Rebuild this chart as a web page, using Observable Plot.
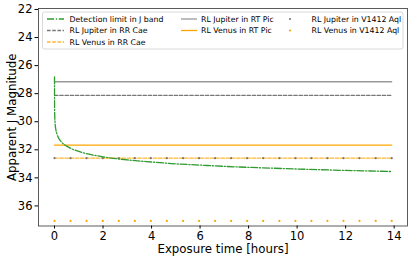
<!DOCTYPE html>
<html>
<head>
<meta charset="utf-8">
<script src="https://cdn.jsdelivr.net/npm/d3@7"></script>
<script src="https://cdn.jsdelivr.net/npm/@observablehq/plot@0.6"></script>
<style>
  html, body { margin: 0; padding: 0; background: #fff; }
  #chart { width: 415px; height: 260px; }
</style>
</head>
<body>
<div id="chart"></div>
<script>
// Detection limit curve
const detTime = [0, 0.003, 0.01, 0.02, 0.05, 0.1, 0.2, 0.3, 0.5, 0.75, 1, 1.5, 2, 3, 4, 5, 6, 7, 8, 9, 10, 11, 12, 13, 13.9];
const detMag  = [26.8, 28.9, 29.62, 30.0, 30.5, 30.87, 31.25, 31.47, 31.74, 31.96, 32.12, 32.34, 32.5, 32.72, 32.87, 33.0, 33.09, 33.18, 33.25, 33.31, 33.37, 33.42, 33.47, 33.51, 33.55];

// Horizontal reference levels
const lineStart = 0;
const lineEnd = 13.9;
const jupiterRTPic = 27.15;
const jupiterRRCae = 28.12;
const venusRTPic = 31.67;
const venusRRCae = 32.6;
const jupiterV1412 = 32.6;
const venusV1412 = 37.07;

// Marker times for dotted series
const markerTimes = [0, 0.66, 1.32, 1.99, 2.65, 3.31, 3.97, 4.63, 5.30, 5.96, 6.62, 7.28, 7.94, 8.60, 9.27, 9.93, 10.59, 11.25, 11.91, 12.57, 13.24, 13.90];

const xTicks = [0, 2, 4, 6, 8, 10, 12, 14];
const yTicks = [22, 24, 26, 28, 30, 32, 34, 36];

const labels = {
  det: "Detection limit in J band",
  jRR: "RL Jupiter in RR Cae",
  vRR: "RL Venus in RR Cae",
  jRT: "RL Jupiter in RT Pic",
  vRT: "RL Venus in RT Pic",
  jV: "RL Jupiter in V1412 Aql",
  vV: "RL Venus in V1412 Aql"
};

const colors = {
  green: "#2f9a2f",
  greySolid: "#999999",
  greyDash: "#777777",
  orange: "#ffa500",
  orangeDash: "#ffb733"
};

const det = detTime.map((t, i) => ({t, m: detMag[i]}));
const hline = (m) => [{t: lineStart, m}, {t: lineEnd, m}];
const dots = (m) => markerTimes.map(t => ({t, m}));

const font = "DejaVu Sans";

const plot = Plot.plot({
  width: 415,
  height: 260,
  marginLeft: 38,
  marginRight: 8,
  marginTop: 8,
  marginBottom: 34.5,
  style: {fontFamily: font, fontSize: "11.5px", color: "#000", background: "#fff"},
  x: {domain: [-0.66, 14.55]},
  y: {domain: [21.93, 37.43], reverse: true},
  marks: [
    Plot.line(hline(jupiterRTPic), {x: "t", y: "m", stroke: colors.greySolid, strokeWidth: 1.3}),
    Plot.line(hline(jupiterRRCae), {x: "t", y: "m", stroke: colors.greyDash, strokeWidth: 1.1, strokeDasharray: "3.6,1.6"}),
    Plot.line(hline(venusRTPic), {x: "t", y: "m", stroke: colors.orange, strokeWidth: 1.3}),
    Plot.line(hline(venusRRCae), {x: "t", y: "m", stroke: colors.orangeDash, strokeWidth: 1.2, strokeDasharray: "3.6,1.6"}),
    Plot.dot(dots(jupiterV1412), {x: "t", y: "m", r: 1.1, fill: colors.greyDash, stroke: "none"}),
    Plot.dot(dots(venusV1412), {x: "t", y: "m", r: 1.1, fill: colors.orange, stroke: "none"}),
    Plot.line(det, {x: "t", y: "m", stroke: colors.green, strokeWidth: 1.3, strokeDasharray: "7,1.8,1.2,1.8", curve: "monotone-x"}),
    Plot.frame({stroke: "#333", strokeWidth: 0.8}),
    Plot.axisX({ticks: xTicks, tickSize: 3, tickPadding: 3, label: null, tickFormat: d => String(d)}),
    Plot.axisY({ticks: yTicks, tickSize: 3.5, tickPadding: 2.5, label: null, tickFormat: d => String(d)}),
    Plot.text(["Apparent J Magnitude"], {frameAnchor: "left", rotate: -90, dx: -26, textAnchor: "middle", lineAnchor: "middle", fontSize: 11.8, fill: "#000"}),
    Plot.text(["Exposure time [hours]"], {frameAnchor: "bottom", dy: 23, textAnchor: "middle", lineAnchor: "middle", fontSize: 11.8, fill: "#000"})
  ]
});

document.getElementById("chart").appendChild(plot);

// Legend
const svg = d3.select(plot);
const lg = svg.append("g").attr("font-family", font).attr("font-size", 7.8).attr("text-anchor", "start");
lg.append("rect").attr("x", 42.5).attr("y", 12).attr("width", 360.5).attr("height", 37)
  .attr("rx", 2).attr("fill", "#fff").attr("fill-opacity", 0.85).attr("stroke", "#d0d0d0").attr("stroke-width", 0.8);

const rows = [19, 30.5, 42];
const entries = [
  {label: labels.det, type: "line", color: colors.green, dash: "7,1.8,1.2,1.8", x0: 47, x1: 64, tx: 69.5, y: rows[0]},
  {label: labels.jRR, type: "line", color: colors.greyDash, dash: "3.6,1.6", x0: 47, x1: 64, tx: 69.5, y: rows[1]},
  {label: labels.vRR, type: "line", color: colors.orangeDash, dash: "3.6,1.6", x0: 47, x1: 64, tx: 69.5, y: rows[2]},
  {label: labels.jRT, type: "line", color: colors.greySolid, dash: null, x0: 181, x1: 197, tx: 201, y: rows[0]},
  {label: labels.vRT, type: "line", color: colors.orange, dash: null, x0: 181, x1: 197, tx: 201, y: rows[1]},
  {label: labels.jV, type: "dot", color: colors.greyDash, cx: 290, tx: 311.5, y: rows[0]},
  {label: labels.vV, type: "dot", color: colors.orange, cx: 290, tx: 311.5, y: rows[1]}
];
for (const e of entries) {
  if (e.type === "line") {
    lg.append("line").attr("x1", e.x0).attr("x2", e.x1).attr("y1", e.y).attr("y2", e.y)
      .attr("stroke", e.color).attr("stroke-width", 1.3).attr("stroke-dasharray", e.dash);
  } else {
    lg.append("circle").attr("cx", e.cx).attr("cy", e.y).attr("r", 1.1).attr("fill", e.color);
  }
  lg.append("text").attr("x", e.tx).attr("y", e.y).attr("dy", "0.35em").attr("fill", "#000").attr("text-anchor", "start").text(e.label);
}
</script>
</body>
</html>
